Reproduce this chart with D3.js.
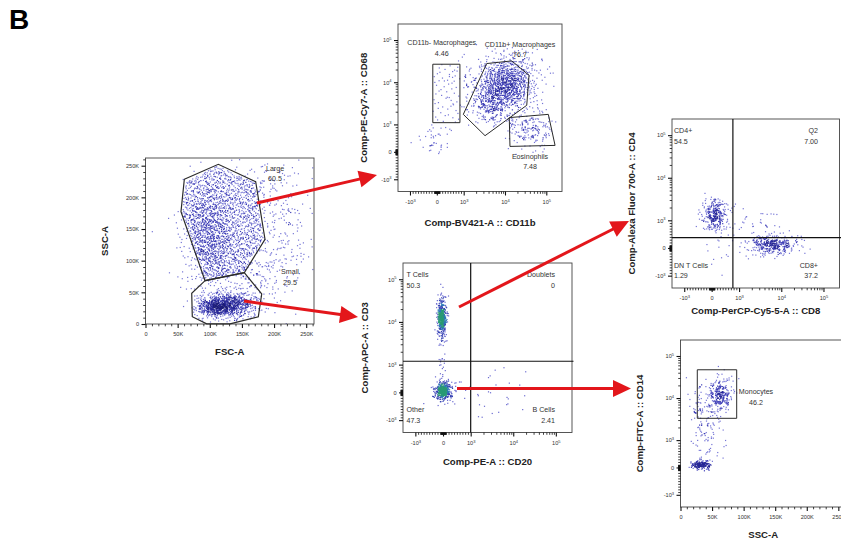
<!DOCTYPE html>
<html>
<head>
<meta charset="utf-8">
<script src="https://cdn.jsdelivr.net/npm/d3@7/dist/d3.min.js"></script>
<style>
  body { margin: 0; background: #fff; }
  svg { display: block; }
  text { font-family: Arial, "Liberation Sans", Helvetica, sans-serif; }
</style>
</head>
<body>
<svg id="c" width="841" height="542"></svg>
<script>
// ------------------------------------------------------------------
// DATA
// ------------------------------------------------------------------
const figureLabel = "B";

// axis tick values / labels
const linTicks = [0, 50000, 100000, 150000, 200000, 250000];
const linTickLabels = ["0", "50K", "100K", "150K", "200K", "250K"];
const logTicks = [-1000, 0, 1000, 10000, 100000];
const logTickLabels = [["-10", "3"], ["0", ""], ["10", "3"], ["10", "4"], ["10", "5"]];

// axis titles
const axisTitles = {
  p1: ["FSC-A", "SSC-A"],
  p2: ["Comp-BV421-A :: CD11b", "Comp-PE-Cy7-A :: CD68"],
  p3: ["Comp-PE-A :: CD20", "Comp-APC-A :: CD3"],
  p4: ["Comp-PerCP-Cy5-5-A :: CD8", "Comp-Alexa Fluor 700-A :: CD4"],
  p5: ["SSC-A", "Comp-FITC-A :: CD14"]
};

// Event populations. c = centre (data values), s = spread in axis units
// (linear axes: data units; logicle axes: decades), n = number of events.
// poly = events spread evenly inside a region (data values).
const p1Events = [
  { poly: [[62000,226000],[113000,250000],[170000,223000],[184000,135000],[153000,83000],[93000,70000],[57000,176000]], n: 1250 },
  { c: [100000, 140000], s: [22000, 45000], n: 550 },
  { c: [122000, 29000], s: [22000, 11000], n: 540 },
  { c: [112000, 27000], s: [14000, 6500], n: 220 },
  { c: [150000, 36000], s: [15000, 10000], n: 110 },
  { c: [205000, 140000], s: [30000, 55000], n: 240 },
  { c: [178000, 215000], s: [25000, 25000], n: 80 },
  { c: [165000, 75000], s: [25000, 18000], n: 110 }
];
const p2Events = [
  { c: [11000, 9300], s: [0.36, 0.32], n: 820 },
  { c: [5000, 3000], s: [0.24, 0.26], n: 220 },
  { c: [40000, 850], s: [0.30, 0.22], n: 170 },
  { poly: [[-150,1100],[860,1100],[860,26700],[-150,26700]], n: 55 },
  { c: [-100, 450], s: [0.18, 0.2], n: 40 },
  { c: [2000, 7000], s: [0.3, 0.4], n: 55 },
  { c: [25000, 30000], s: [0.30, 0.20], n: 30 }
];
const p3Events = [
  { c: [-37, 12300], s: [0.06, 0.26], n: 300 },
  { c: [-37, 12300], s: [0.035, 0.11], n: 140 },
  { c: [0, 49], s: [0.10, 0.11], n: 300 },
  { c: [0, 49], s: [0.045, 0.05], n: 150 },
  { c: [-30, 900], s: [0.05, 0.25], n: 15 },
  { c: [4500, -50], s: [0.45, 0.30], n: 25 },
  { c: [300, 100], s: [0.25, 0.20], n: 30 }
];
const p4Events = [
  { c: [126, 1330], s: [0.15, 0.22], n: 230 },
  { c: [126, 1330], s: [0.08, 0.12], n: 35 },
  { c: [6000, 108], s: [0.32, 0.13], n: 270 },
  { c: [6000, 108], s: [0.18, 0.07], n: 45 },
  { c: [2400, 900], s: [0.35, 0.20], n: 35 },
  { c: [200, -300], s: [0.15, 0.20], n: 10 }
];
const p5Events = [
  { c: [62600, 11900], s: [11000, 0.22], n: 200 },
  { c: [62600, 11900], s: [6000, 0.12], n: 50 },
  { c: [42000, 1800], s: [12000, 0.45], n: 90 },
  { c: [33000, 92], s: [9000, 0.05], n: 130 },
  { c: [30000, 92], s: [5500, 0.03], n: 45 },
  { c: [28000, 6000], s: [6000, 0.30], n: 35 }
];

// gates (data values) and their labels
const p1Gates = [
  { name: "Large", freq: "60.5", poly: [[60400,228500],[113300,252200],[171400,224700],[185900,133800],[153700,81000],[92600,68400],[55200,177300]], at: [201500, 245900] },
  { name: "Small", freq: "29.5", poly: [[92600,68400],[153700,81000],[180800,47400],[175500,11500],[131500,300],[95200,300],[72800,11500],[71900,48500]], at: [224800, 82600] }
];
const p2Gates = [
  { name: "CD11b- Macrophages", freq: "4.46", poly: [[-150,1100],[860,1100],[860,26700],[-150,26700]], at: [182, 85700] },
  { name: "CD11b+ Macrophages", freq: "76.7", poly: [[986,1730],[3610,27700],[14600,32000],[38200,14600],[33600,2840],[3290,589]], at: [23100, 79800] },
  { name: "Eosinophils", freq: "7.48", poly: [[12700,1450],[112000,1730],[163000,235],[13200,198]], at: [40400, -168] }
];
const p5Gates = [
  { name: "Monocytes", freq: "46.2", poly: [[26600,3300],[89000,3300],[89000,47000],[26600,47000]], at: [119600, 14100] }
];
// quadrant gates: split values and corner labels [tl, tr, bl, br]
const p3Quad = { split: [1000, 1200], labels: [["T Cells","50.3"],["Doublets","0"],["Other","47.3"],["B Cells","2.41"]] };
const p4Quad = { split: [774, 372], labels: [["CD4+","54.5"],["Q2","7.00"],["DN T Cells","1.29"],["CD8+","37.2"]] };

// ------------------------------------------------------------------
// SCALES / HELPERS
// ------------------------------------------------------------------
const A = 0.65; // width of linear region (decades) in the logicle-like display
const logicle = v => { const m = Math.abs(v); return m <= 1000 ? A * v / 1000 : Math.sign(v) * (A + Math.log10(m / 1000)); };
const LOG_DOMAIN = [-0.94, 3.03];
const LIN_DOMAIN = [0, 262144];

function makeAxis(type, range) {
  const scale = d3.scaleLinear().domain(type === "lin" ? LIN_DOMAIN : LOG_DOMAIN).range(range);
  const fwd = type === "lin" ? (v => v) : logicle;
  return { type, scale, fwd, pos: v => scale(fwd(v)) };
}
// low-discrepancy sequence used only to spread events inside each population
function halton(i, b) { let f = 1, r = 0; while (i > 0) { f /= b; r += f * (i % b); i = Math.floor(i / b); } return r; }

const linMinor = d3.range(10000, 262144, 10000).filter(v => v % 50000 !== 0);
const logMinor = (() => { const o = []; for (const s of [-1, 1]) for (let k = 1; k <= 4; k++) for (let m = 1; m <= 9; m++) { const v = s * m * 10 ** k; if (![1000, 10000, 100000].includes(Math.abs(v))) o.push(v); } return o; })();

// ------------------------------------------------------------------
// LAYOUT
// ------------------------------------------------------------------
const svg = d3.select("#c");
svg.append("rect").attr("width", 841).attr("height", 542).attr("fill", "#fff");

function panel(box, xt, yt) {
  return { box, x: makeAxis(xt, [box.x0, box.x1]), y: makeAxis(yt, [box.y1, box.y0]) };
}
const P1 = panel({ x0: 145.5, y0: 158, x1: 314, y1: 324 }, "lin", "lin");
const P2 = panel({ x0: 398, y0: 24, x1: 562, y1: 191.5 }, "log", "log");
const P3 = panel({ x0: 403, y0: 263, x1: 572, y1: 432.5 }, "log", "log");
const P4 = panel({ x0: 672, y0: 119, x1: 839.5, y1: 288 }, "log", "log");
const P5 = panel({ x0: 680.5, y0: 340, x1: 846, y1: 507 }, "lin", "log");

const palBlue = ["#7676d6", "#3c3cb6", "#262696", "#1c1c78"];
const palGreen = ["#6a6ad0", "#3440b2", "#2a78b4", "#2a9a74"];

let seq = 1;
let clipN = 0;
function drawEvents(p, events, pal, thr) {
  const pts = [];
  events.forEach(ev => {
    if (ev.poly) {
      const poly = ev.poly.map(([x, y]) => [p.x.fwd(x), p.y.fwd(y)]);
      const [xa, xb] = d3.extent(poly, d => d[0]), [ya, yb] = d3.extent(poly, d => d[1]);
      let got = 0, guard = 0;
      while (got < ev.n && guard < ev.n * 30) {
        guard++; const i = seq++;
        const u = xa + (xb - xa) * halton(i, 2), v = ya + (yb - ya) * halton(i, 3);
        if (d3.polygonContains(poly, [u, v])) { pts.push([u, v]); got++; }
      }
    } else {
      const cx = p.x.fwd(ev.c[0]), cy = p.y.fwd(ev.c[1]);
      for (let k = 0; k < ev.n; k++) {
        const j = 1 + ((seq++) * 7919) % 104723;
        const r = Math.sqrt(-2 * Math.log(halton(j, 5))), a = 2 * Math.PI * halton(j, 7);
        pts.push([cx + ev.s[0] * r * Math.cos(a), cy + ev.s[1] * r * Math.sin(a)]);
      }
    }
  });
  const xd = p.x.scale.domain(), yd = p.y.scale.domain();
  const px = pts.filter(d => d[0] >= xd[0] && d[0] <= xd[1] && d[1] >= yd[0] && d[1] <= yd[1])
                .map(d => [p.x.scale(d[0]), p.y.scale(d[1])]);
  const cnt = new Map();
  const key = d => Math.floor(d[0] / 3) + "," + Math.floor(d[1] / 3);
  px.forEach(d => cnt.set(key(d), (cnt.get(key(d)) || 0) + 1));
  const col = d3.scaleThreshold().domain(thr).range(pal);
  const id = "clip" + (clipN++);
  svg.append("clipPath").attr("id", id).append("rect")
    .attr("x", p.box.x0).attr("y", p.box.y0).attr("width", p.box.x1 - p.box.x0).attr("height", p.box.y1 - p.box.y0);
  svg.append("g").attr("clip-path", `url(#${id})`).selectAll("rect").data(px).join("rect")
    .attr("x", d => d[0] - 0.6).attr("y", d => d[1] - 0.6).attr("width", 1.2).attr("height", 1.2)
    .attr("fill", d => col(cnt.get(key(d))));
}

function drawFrame(p) {
  svg.append("rect").attr("x", p.box.x0).attr("y", p.box.y0)
    .attr("width", p.box.x1 - p.box.x0).attr("height", p.box.y1 - p.box.y0)
    .attr("fill", "none").attr("stroke", "#444").attr("stroke-width", 0.9);
}

function drawAxis(p, orient) {
  const ax = orient === "bottom" ? p.x : p.y;
  const majors = ax.type === "lin" ? linTicks : logTicks;
  const labels = ax.type === "lin" ? linTickLabels.map(t => [t, ""]) : logTickLabels;
  const minors = ax.type === "lin" ? linMinor : logMinor;
  const [d0, d1] = ax.scale.domain();
  const ok = t => t >= d0 - 1e-9 && t <= d1 + 1e-9;
  const gen = orient === "bottom" ? d3.axisBottom : d3.axisLeft;
  const tr = orient === "bottom" ? `translate(0,${p.box.y1})` : `translate(${p.box.x0},0)`;
  const gm = svg.append("g").attr("transform", tr).style("color", "#111")
    .call(gen(ax.scale).tickValues(minors.map(ax.fwd).filter(ok)).tickSize(2.3).tickSizeOuter(0).tickFormat(""));
  gm.select(".domain").remove();
  gm.selectAll("line").attr("stroke-width", 0.8);
  const maj = majors.map((v, i) => ({ t: ax.fwd(v), lab: labels[i] })).filter(o => ok(o.t));
  const gM = svg.append("g").attr("transform", tr).style("color", "#111")
    .call(gen(ax.scale).tickValues(maj.map(o => o.t)).tickSize(4).tickSizeOuter(0)
      .tickPadding(orient === "bottom" ? 4.5 : 2.5).tickFormat(""));
  gM.select(".domain").remove();
  gM.attr("font-size", 5.6).attr("font-family", "Arial, 'Liberation Sans', sans-serif");
  gM.selectAll("line").attr("stroke-width", 1.1);
  gM.selectAll(".tick text").attr("fill", "#333").each(function (d, i) {
    const t = d3.select(this); const lab = maj[i].lab;
    t.text(null);
    t.append("tspan").text(lab[0]);
    if (lab[1]) t.append("tspan").attr("dy", "-0.55em").attr("font-size", "0.72em").text(lab[1]);
  });
}

function drawTitles(p, titles, xOff, yOff) {
  const b = p.box;
  svg.append("text").attr("x", (b.x0 + b.x1) / 2).attr("y", b.y1 + xOff)
    .attr("text-anchor", "middle").attr("font-size", 9.6).attr("font-weight", "bold").attr("fill", "#222")
    .text(titles[0]);
  const cy = (b.y0 + b.y1) / 2, cx = b.x0 - yOff;
  svg.append("text").attr("transform", `translate(${cx},${cy}) rotate(-90)`)
    .attr("text-anchor", "middle").attr("font-size", 9.6).attr("font-weight", "bold").attr("fill", "#222")
    .text(titles[1]);
}

const LABEL_FS = 7.1;
function drawGates(p, gates, sw) {
  gates.forEach(g => {
    const pts = g.poly.map(([x, y]) => [p.x.pos(x), p.y.pos(y)]);
    svg.append("path").attr("d", d3.line().curve(d3.curveLinearClosed)(pts))
      .attr("fill", "none").attr("stroke", "#2a2a2a").attr("stroke-width", sw);
    const lx = p.x.pos(g.at[0]), ly = p.y.pos(g.at[1]);
    svg.append("text").attr("x", lx).attr("y", ly).attr("dy", "0.35em").attr("text-anchor", "middle")
      .attr("font-size", LABEL_FS).attr("fill", "#333").text(g.name);
    svg.append("text").attr("x", lx).attr("y", ly + 10.5).attr("dy", "0.35em").attr("text-anchor", "middle")
      .attr("font-size", LABEL_FS).attr("fill", "#333").text(g.freq);
  });
}

function drawQuad(p, q, padL, padR) {
  const b = p.box;
  const qx = p.x.pos(q.split[0]), qy = p.y.pos(q.split[1]);
  svg.append("line").attr("x1", qx).attr("x2", qx).attr("y1", b.y0).attr("y2", b.y1).attr("stroke", "#111").attr("stroke-width", 1.2);
  svg.append("line").attr("x1", b.x0).attr("x2", Math.min(b.x1 + 1.5, 841)).attr("y1", qy).attr("y2", qy).attr("stroke", "#111").attr("stroke-width", 1.2);
  const spots = [
    [b.x0 + padL, b.y0 + 12, "start"], [b.x1 - padR, b.y0 + 12, "end"],
    [b.x0 + padL, b.y1 - 22.5, "start"], [b.x1 - padR, b.y1 - 22.5, "end"]
  ];
  q.labels.forEach((lab, i) => {
    const [x, y, anc] = spots[i];
    svg.append("text").attr("x", x).attr("y", y).attr("dy", "0.35em").attr("text-anchor", anc)
      .attr("font-size", LABEL_FS).attr("fill", "#333").text(lab[0]);
    svg.append("text").attr("x", x).attr("y", y + 10.5).attr("dy", "0.35em").attr("text-anchor", anc)
      .attr("font-size", LABEL_FS).attr("fill", "#333").text(lab[1]);
  });
}

// ------------------------------------------------------------------
// DRAW
// ------------------------------------------------------------------
drawEvents(P1, p1Events, palBlue, [3, 7, 13]);
drawEvents(P2, p2Events, palBlue, [3, 7, 14]);
drawEvents(P3, p3Events, palGreen, [3, 8, 14]);
drawEvents(P4, p4Events, palBlue, [3, 7, 40]);
drawEvents(P5, p5Events, palBlue, [3, 7, 40]);

[P1, P2, P3, P4, P5].forEach(p => { drawFrame(p); drawAxis(p, "bottom"); drawAxis(p, "left"); });

drawGates(P1, p1Gates, 1.2);
drawGates(P2, p2Gates, 1.0);
drawGates(P5, p5Gates, 1.0);
drawQuad(P3, p3Quad, 3.5, 17);
drawQuad(P4, p4Quad, 2, 21.5);

drawTitles(P1, axisTitles.p1, 31, 38);
drawTitles(P2, axisTitles.p2, 34, 31);
drawTitles(P3, axisTitles.p3, 32, 35);
drawTitles(P4, axisTitles.p4, 26, 37);
drawTitles(P5, axisTitles.p5, 31, 38);

// red arrows linking the gates to the next plots (layout)
const arrows = [
  [[257, 203], [377, 175]],
  [[244, 301], [358, 317]],
  [[459, 307], [629, 221]],
  [[457, 388.5], [631, 388.5]]
];
arrows.forEach(([s, e]) => {
  const dx = e[0] - s[0], dy = e[1] - s[1], L = Math.hypot(dx, dy), ux = dx / L, uy = dy / L;
  const hl = 18, hw = 8.5;
  const bx = e[0] - ux * hl, by = e[1] - uy * hl;
  svg.append("line").attr("x1", s[0]).attr("y1", s[1]).attr("x2", bx + ux * 2).attr("y2", by + uy * 2)
    .attr("stroke", "#e3161b").attr("stroke-width", 3);
  svg.append("path").attr("d", d3.line()([[e[0], e[1]], [bx - uy * hw, by + ux * hw], [bx + uy * hw, by - ux * hw]]) + "Z")
    .attr("fill", "#e3161b");
});

svg.append("text").attr("x", 9).attr("y", 28.5).attr("font-size", 28).attr("font-weight", "bold")
  .attr("fill", "#000").text(figureLabel);
</script>
</body>
</html>
